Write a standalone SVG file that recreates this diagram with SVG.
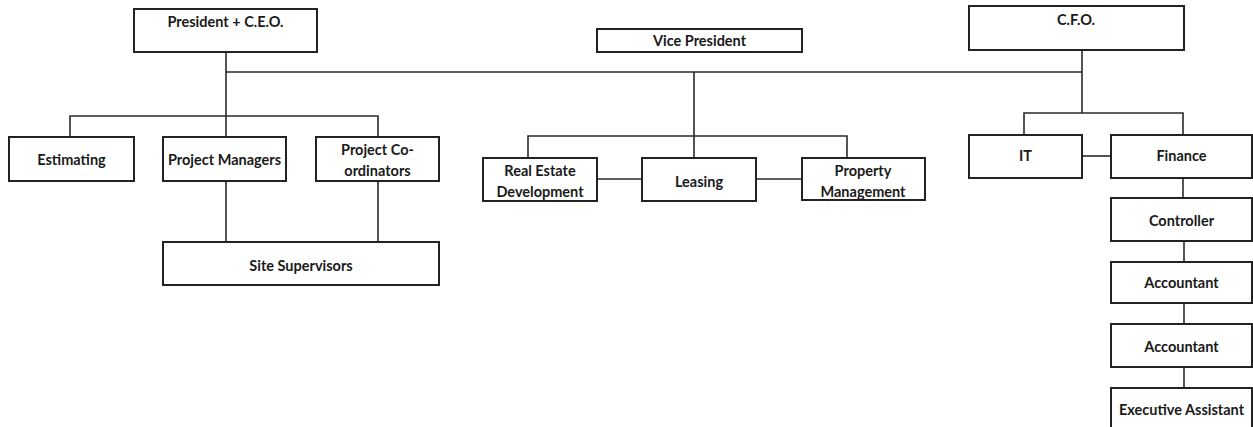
<svg xmlns="http://www.w3.org/2000/svg" width="1253" height="427" viewBox="0 0 1253 427">
<style>
  .box { fill: #ffffff; stroke: #222222; stroke-width: 2; }
  .lbl { font-family: Lato, "Liberation Sans", sans-serif; font-weight: bold; font-size: 14.5px; fill: #1a1a1a; text-anchor: middle; }
  .conn { fill: none; stroke: #2a2a2a; stroke-width: 1.6; }
</style>
<rect width="1253" height="427" fill="#ffffff"/>
<g id="connectors">
  <path class="conn" d="M226 52 V137"/>
  <path class="conn" d="M226 72 H1082"/>
  <path class="conn" d="M70 137 V116 H378 V137"/>
  <path class="conn" d="M226 181 V242"/>
  <path class="conn" d="M378 181 V242"/>
  <path class="conn" d="M694 72 V158"/>
  <path class="conn" d="M528 158 V136 H847 V158"/>
  <path class="conn" d="M597 179 H642"/>
  <path class="conn" d="M756 179 H802"/>
  <path class="conn" d="M1082 50 V113"/>
  <path class="conn" d="M1024 135 V113 H1183 V135"/>
  <path class="conn" d="M1082 156 H1111"/>
  <path class="conn" d="M1183 178 V198"/>
  <path class="conn" d="M1184 241 V262"/>
  <path class="conn" d="M1184 303 V324"/>
  <path class="conn" d="M1184 367 V388"/>
</g>
<g id="president">
  <rect class="box" x="134" y="9" width="183" height="43"/>
  <text class="lbl" x="225.5" y="27">President + C.E.O.</text>
</g>
<g id="vice-president">
  <rect class="box" x="597" y="29" width="205" height="23"/>
  <text class="lbl" x="699.5" y="46">Vice President</text>
</g>
<g id="cfo">
  <rect class="box" x="969" y="6" width="215" height="44"/>
  <text class="lbl" x="1076" y="25">C.F.O.</text>
</g>
<g id="estimating">
  <rect class="box" x="9" y="137" width="125" height="44"/>
  <text class="lbl" x="71.5" y="165">Estimating</text>
</g>
<g id="project-managers">
  <rect class="box" x="163" y="137" width="123" height="44"/>
  <text class="lbl" x="224.5" y="165">Project Managers</text>
</g>
<g id="project-coordinators">
  <rect class="box" x="316" y="137" width="123" height="44"/>
  <text class="lbl" x="377.5" y="155">Project Co-</text>
  <text class="lbl" x="377.5" y="176">ordinators</text>
</g>
<g id="site-supervisors">
  <rect class="box" x="163" y="242" width="276" height="43"/>
  <text class="lbl" x="301" y="271">Site Supervisors</text>
</g>
<g id="real-estate">
  <rect class="box" x="483" y="158" width="114" height="43"/>
  <text class="lbl" x="540" y="176">Real Estate</text>
  <text class="lbl" x="540" y="197">Development</text>
</g>
<g id="leasing">
  <rect class="box" x="642" y="158" width="114" height="43"/>
  <text class="lbl" x="699" y="187">Leasing</text>
</g>
<g id="property-management">
  <rect class="box" x="802" y="158" width="123" height="42"/>
  <text class="lbl" x="863" y="176">Property</text>
  <text class="lbl" x="863" y="197">Management</text>
</g>
<g id="it">
  <rect class="box" x="969" y="135" width="113" height="43"/>
  <text class="lbl" x="1025.5" y="161">IT</text>
</g>
<g id="finance">
  <rect class="box" x="1111" y="135" width="141" height="43"/>
  <text class="lbl" x="1181.5" y="161">Finance</text>
</g>
<g id="controller">
  <rect class="box" x="1111" y="198" width="141" height="43"/>
  <text class="lbl" x="1181.5" y="226">Controller</text>
</g>
<g id="accountant-1">
  <rect class="box" x="1111" y="262" width="141" height="41"/>
  <text class="lbl" x="1181.5" y="288">Accountant</text>
</g>
<g id="accountant-2">
  <rect class="box" x="1111" y="324" width="141" height="43"/>
  <text class="lbl" x="1181.5" y="352">Accountant</text>
</g>
<g id="executive-assistant">
  <rect class="box" x="1111" y="388" width="141" height="45"/>
  <text class="lbl" x="1181.5" y="415">Executive Assistant</text>
</g>
</svg>
